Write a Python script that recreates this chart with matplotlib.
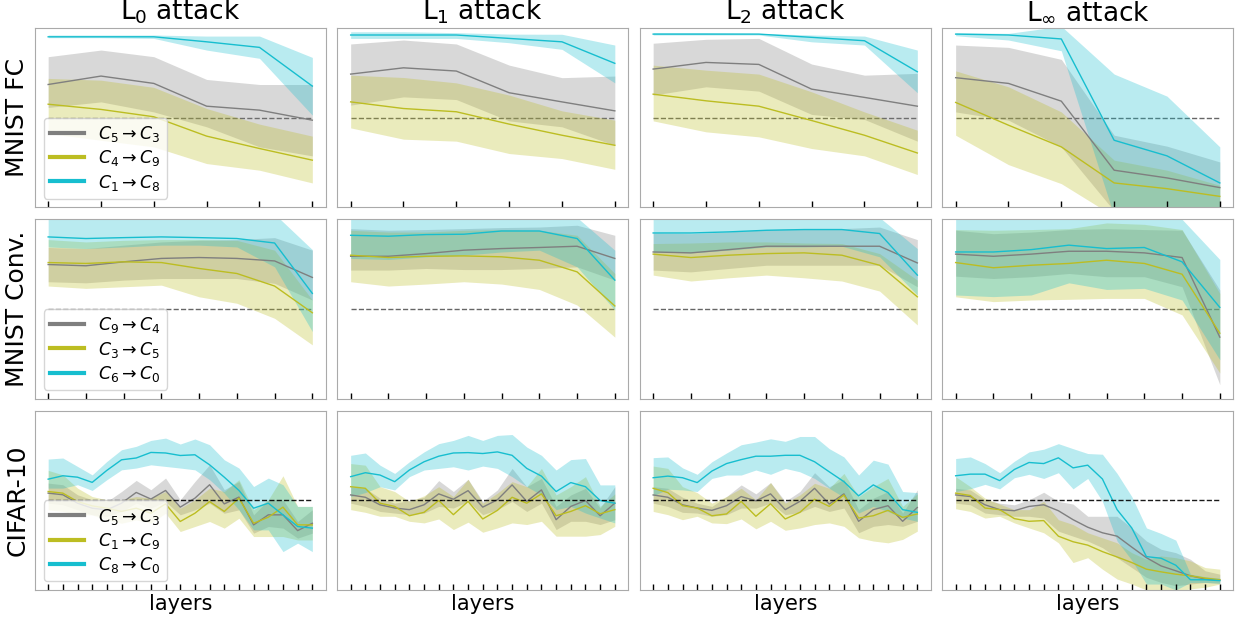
import numpy as np
import matplotlib.pyplot as plt

# etiquetas
filas = ['MNIST FC', 'MNIST Conv.', 'CIFAR-10']
titulos = [r'L$_0$ attack', r'L$_1$ attack', r'L$_2$ attack', r'L$_\infty$ attack']
leyendas = [
    [r'$C_5 \rightarrow C_3$', r'$C_4 \rightarrow C_9$', r'$C_1 \rightarrow C_8$'],
    [r'$C_9 \rightarrow C_4$', r'$C_3 \rightarrow C_5$', r'$C_6 \rightarrow C_0$'],
    [r'$C_5 \rightarrow C_3$', r'$C_1 \rightarrow C_9$', r'$C_8 \rightarrow C_0$'],
]
nivel = 0.5  # linea discontinua

# ---------------- MNIST FC (6 capas) ----------------
fc_l0_gray = [0.685, 0.732, 0.691, 0.564, 0.542, 0.486]
fc_l0_gray_lo = [0.557, 0.588, 0.532, 0.449, 0.337, 0.287]
fc_l0_gray_hi = [0.840, 0.877, 0.840, 0.713, 0.685, 0.685]
fc_l0_olive = [0.575, 0.546, 0.505, 0.397, 0.328, 0.263]
fc_l0_olive_lo = [0.412, 0.374, 0.337, 0.244, 0.207, 0.136]
fc_l0_olive_hi = [0.719, 0.709, 0.669, 0.551, 0.464, 0.397]
fc_l0_cyan = [0.951, 0.951, 0.951, 0.923, 0.892, 0.676]
fc_l0_cyan_lo = [0.946, 0.946, 0.942, 0.877, 0.831, 0.514]
fc_l0_cyan_hi = [0.961, 0.961, 0.961, 0.955, 0.955, 0.836]

fc_l1_gray = [0.743, 0.778, 0.760, 0.639, 0.588, 0.538]
fc_l1_gray_lo = [0.570, 0.616, 0.601, 0.482, 0.449, 0.346]
fc_l1_gray_hi = [0.911, 0.933, 0.911, 0.793, 0.723, 0.732]
fc_l1_olive = [0.588, 0.551, 0.533, 0.464, 0.402, 0.346]
fc_l1_olive_lo = [0.443, 0.380, 0.369, 0.300, 0.272, 0.212]
fc_l1_olive_hi = [0.737, 0.724, 0.694, 0.626, 0.538, 0.486]
fc_l1_cyan = [0.961, 0.961, 0.961, 0.942, 0.923, 0.803]
fc_l1_cyan_lo = [0.942, 0.942, 0.942, 0.918, 0.881, 0.694]
fc_l1_cyan_hi = [0.979, 0.979, 0.974, 0.966, 0.965, 0.905]

fc_l2_gray = [0.771, 0.808, 0.797, 0.659, 0.613, 0.564]
fc_l2_gray_lo = [0.626, 0.672, 0.648, 0.518, 0.490, 0.369]
fc_l2_gray_hi = [0.915, 0.937, 0.942, 0.799, 0.737, 0.747]
fc_l2_olive = [0.631, 0.594, 0.564, 0.484, 0.402, 0.303]
fc_l2_olive_lo = [0.482, 0.421, 0.393, 0.328, 0.287, 0.183]
fc_l2_olive_hi = [0.793, 0.765, 0.743, 0.644, 0.532, 0.430]
fc_l2_cyan = [0.966, 0.966, 0.966, 0.948, 0.929, 0.756]
fc_l2_cyan_lo = [0.961, 0.961, 0.961, 0.923, 0.905, 0.639]
fc_l2_cyan_hi = [0.974, 0.974, 0.970, 0.961, 0.955, 0.877]

fc_linf_gray = [0.723, 0.691, 0.592, 0.207, 0.164, 0.110]
fc_linf_gray_lo = [0.532, 0.486, 0.337, -0.02, -0.02, 0.0]
fc_linf_gray_hi = [0.905, 0.892, 0.825, 0.402, 0.341, 0.253]
fc_linf_olive = [0.585, 0.458, 0.337, 0.136, 0.104, 0.061]
fc_linf_olive_lo = [0.402, 0.238, 0.132, -0.05, -0.05, -0.03]
fc_linf_olive_hi = [0.761, 0.672, 0.532, 0.263, 0.207, 0.123]
fc_linf_cyan = [0.966, 0.961, 0.939, 0.374, 0.287, 0.136]
fc_linf_cyan_lo = [0.957, 0.933, 0.873, -0.05, -0.05, -0.03]
fc_linf_cyan_hi = [0.974, 0.970, 1.01, 0.743, 0.620, 0.337]

# ---------------- MNIST Conv. (8 capas) ----------------
conv_l0_gray = [0.748, 0.741, 0.763, 0.782, 0.787, 0.782, 0.768, 0.676]
conv_l0_gray_lo = [0.652, 0.646, 0.661, 0.670, 0.670, 0.670, 0.643, 0.550]
conv_l0_gray_hi = [0.843, 0.837, 0.856, 0.874, 0.883, 0.887, 0.898, 0.828]
conv_l0_olive = [0.759, 0.754, 0.763, 0.759, 0.726, 0.698, 0.628, 0.479]
conv_l0_olive_lo = [0.628, 0.615, 0.624, 0.633, 0.568, 0.532, 0.448, 0.300]
conv_l0_olive_hi = [0.887, 0.874, 0.883, 0.887, 0.887, 0.883, 0.828, 0.550]
conv_l0_cyan = [0.902, 0.893, 0.898, 0.902, 0.898, 0.893, 0.868, 0.587]
conv_l0_cyan_lo = [0.846, 0.837, 0.846, 0.856, 0.856, 0.846, 0.735, 0.374]
conv_l0_cyan_hi = [1.08, 1.08, 1.08, 1.08, 1.08, 1.08, 1.03, 0.831]

conv_l1_gray = [0.794, 0.794, 0.809, 0.828, 0.837, 0.843, 0.850, 0.782]
conv_l1_gray_lo = [0.717, 0.717, 0.726, 0.720, 0.720, 0.726, 0.735, 0.661]
conv_l1_gray_hi = [0.948, 0.939, 0.943, 0.948, 0.954, 0.957, 0.967, 0.911]
conv_l1_olive = [0.800, 0.787, 0.794, 0.796, 0.791, 0.772, 0.707, 0.517]
conv_l1_olive_lo = [0.652, 0.628, 0.639, 0.652, 0.639, 0.609, 0.522, 0.343]
conv_l1_olive_hi = [0.939, 0.929, 0.929, 0.939, 0.943, 0.939, 0.911, 0.698]
conv_l1_cyan = [0.911, 0.906, 0.915, 0.917, 0.935, 0.935, 0.893, 0.661]
conv_l1_cyan_lo = [0.782, 0.776, 0.791, 0.800, 0.818, 0.828, 0.735, 0.494]
conv_l1_cyan_hi = [1.08, 1.08, 1.08, 1.08, 1.08, 1.08, 1.01, 0.828]

conv_l2_gray = [0.818, 0.813, 0.831, 0.850, 0.850, 0.850, 0.850, 0.757]
conv_l2_gray_lo = [0.717, 0.707, 0.726, 0.744, 0.744, 0.744, 0.744, 0.624]
conv_l2_gray_hi = [0.924, 0.920, 0.930, 0.943, 0.948, 0.948, 0.957, 0.887]
conv_l2_olive = [0.806, 0.787, 0.800, 0.809, 0.813, 0.800, 0.744, 0.568]
conv_l2_olive_lo = [0.689, 0.656, 0.674, 0.689, 0.674, 0.656, 0.600, 0.411]
conv_l2_olive_hi = [0.865, 0.868, 0.874, 0.874, 0.868, 0.865, 0.809, 0.661]
conv_l2_cyan = [0.924, 0.924, 0.930, 0.939, 0.943, 0.943, 0.921, 0.689]
conv_l2_cyan_lo = [0.818, 0.813, 0.828, 0.846, 0.846, 0.850, 0.791, 0.578]
conv_l2_cyan_hi = [1.08, 1.08, 1.08, 1.08, 1.08, 1.08, 1.01, 0.837]

conv_linf_gray = [0.806, 0.794, 0.806, 0.822, 0.822, 0.813, 0.787, 0.343]
conv_linf_gray_lo = [0.683, 0.670, 0.680, 0.698, 0.680, 0.680, 0.624, 0.078]
conv_linf_gray_hi = [0.939, 0.920, 0.929, 0.943, 0.948, 0.943, 0.939, 0.606]
conv_linf_olive = [0.759, 0.730, 0.744, 0.754, 0.772, 0.754, 0.694, 0.365]
conv_linf_olive_lo = [0.568, 0.541, 0.550, 0.554, 0.559, 0.559, 0.467, 0.143]
conv_linf_olive_hi = [0.943, 0.939, 0.943, 0.948, 0.980, 0.972, 0.943, 0.587]
conv_linf_cyan = [0.818, 0.818, 0.831, 0.856, 0.837, 0.843, 0.763, 0.509]
conv_linf_cyan_lo = [0.578, 0.569, 0.578, 0.646, 0.609, 0.615, 0.550, 0.217]
conv_linf_cyan_hi = [1.08, 1.08, 1.08, 1.08, 1.08, 1.08, 1.0, 0.776]

# ---------------- CIFAR-10 (19 capas) ----------------
cif_l0_gray = [0.540, 0.531, 0.484, 0.456, 0.447, 0.484, 0.544, 0.507, 0.555, 0.462,
               0.512, 0.587, 0.480, 0.518, 0.363, 0.419, 0.419, 0.331, 0.372]
cif_l0_gray_lo = [0.484, 0.475, 0.447, 0.419, 0.410, 0.438, 0.484, 0.456, 0.493, 0.419,
                  0.447, 0.484, 0.428, 0.447, 0.317, 0.354, 0.345, 0.289, 0.317]
cif_l0_gray_hi = [0.596, 0.587, 0.531, 0.503, 0.493, 0.549, 0.611, 0.559, 0.624, 0.503,
                  0.605, 0.698, 0.559, 0.605, 0.419, 0.503, 0.503, 0.382, 0.447]
cif_l0_olive = [0.549, 0.540, 0.493, 0.469, 0.456, 0.438, 0.456, 0.428, 0.480, 0.382,
                0.428, 0.493, 0.438, 0.512, 0.372, 0.406, 0.462, 0.363, 0.363]
cif_l0_olive_lo = [0.447, 0.438, 0.419, 0.419, 0.391, 0.372, 0.391, 0.372, 0.428, 0.326,
                   0.354, 0.382, 0.345, 0.400, 0.298, 0.298, 0.298, 0.279, 0.279]
cif_l0_olive_hi = [0.667, 0.642, 0.568, 0.521, 0.503, 0.503, 0.521, 0.512, 0.549, 0.456,
                   0.503, 0.568, 0.549, 0.615, 0.447, 0.503, 0.637, 0.466, 0.466]
cif_l0_cyan = [0.618, 0.637, 0.629, 0.600, 0.667, 0.726, 0.736, 0.767, 0.764, 0.750,
               0.754, 0.698, 0.629, 0.555, 0.456, 0.484, 0.419, 0.354, 0.345]
cif_l0_cyan_lo = [0.568, 0.568, 0.587, 0.555, 0.615, 0.670, 0.680, 0.698, 0.689, 0.680,
                  0.670, 0.615, 0.540, 0.447, 0.335, 0.335, 0.214, 0.261, 0.214]
cif_l0_cyan_hi = [0.730, 0.736, 0.689, 0.642, 0.717, 0.782, 0.801, 0.834, 0.847, 0.814,
                  0.842, 0.810, 0.726, 0.680, 0.577, 0.624, 0.587, 0.466, 0.466]

cif_l1_gray = [0.530, 0.517, 0.475, 0.457, 0.448, 0.475, 0.536, 0.506, 0.554, 0.462,
               0.503, 0.586, 0.494, 0.558, 0.392, 0.466, 0.499, 0.414, 0.484]
cif_l1_gray_lo = [0.484, 0.466, 0.438, 0.429, 0.420, 0.429, 0.466, 0.457, 0.494, 0.420,
                  0.448, 0.494, 0.438, 0.484, 0.337, 0.383, 0.383, 0.365, 0.392]
cif_l1_gray_hi = [0.576, 0.567, 0.512, 0.484, 0.499, 0.517, 0.610, 0.549, 0.617, 0.494,
                  0.558, 0.678, 0.576, 0.622, 0.466, 0.530, 0.567, 0.457, 0.576]
cif_l1_olive = [0.576, 0.567, 0.484, 0.466, 0.414, 0.433, 0.499, 0.420, 0.494, 0.396,
                0.444, 0.517, 0.484, 0.536, 0.414, 0.438, 0.470, 0.425, 0.448]
cif_l1_olive_lo = [0.448, 0.433, 0.411, 0.411, 0.383, 0.374, 0.396, 0.337, 0.378, 0.322,
                   0.346, 0.374, 0.365, 0.383, 0.300, 0.300, 0.300, 0.309, 0.355]
cif_l1_olive_hi = [0.705, 0.696, 0.576, 0.549, 0.494, 0.525, 0.576, 0.521, 0.617, 0.484,
                   0.540, 0.604, 0.576, 0.678, 0.530, 0.576, 0.632, 0.466, 0.536]
cif_l1_cyan = [0.632, 0.654, 0.641, 0.604, 0.669, 0.715, 0.746, 0.764, 0.766, 0.761,
               0.770, 0.751, 0.678, 0.635, 0.549, 0.599, 0.576, 0.499, 0.484]
cif_l1_cyan_lo = [0.521, 0.543, 0.576, 0.558, 0.632, 0.669, 0.678, 0.687, 0.669, 0.691,
                  0.678, 0.632, 0.576, 0.530, 0.448, 0.466, 0.429, 0.401, 0.374]
cif_l1_cyan_hi = [0.751, 0.764, 0.696, 0.650, 0.715, 0.770, 0.816, 0.834, 0.862, 0.834,
                  0.862, 0.867, 0.797, 0.751, 0.669, 0.727, 0.733, 0.586, 0.586]

cif_l2_gray = [0.530, 0.517, 0.475, 0.457, 0.444, 0.470, 0.521, 0.497, 0.536, 0.448,
               0.494, 0.567, 0.479, 0.536, 0.383, 0.448, 0.470, 0.383, 0.460]
cif_l2_gray_lo = [0.484, 0.466, 0.433, 0.429, 0.411, 0.420, 0.457, 0.457, 0.484, 0.420,
                  0.433, 0.466, 0.438, 0.457, 0.319, 0.355, 0.365, 0.355, 0.383]
cif_l2_gray_hi = [0.576, 0.567, 0.517, 0.484, 0.466, 0.521, 0.586, 0.536, 0.599, 0.494,
                  0.549, 0.654, 0.576, 0.617, 0.448, 0.512, 0.549, 0.429, 0.558]
cif_l2_olive = [0.567, 0.543, 0.470, 0.457, 0.414, 0.424, 0.494, 0.411, 0.481, 0.396,
                0.433, 0.506, 0.466, 0.530, 0.401, 0.414, 0.444, 0.405, 0.424]
cif_l2_olive_lo = [0.438, 0.420, 0.392, 0.411, 0.374, 0.370, 0.396, 0.341, 0.383, 0.333,
                   0.346, 0.365, 0.374, 0.355, 0.291, 0.273, 0.263, 0.282, 0.328]
cif_l2_olive_hi = [0.691, 0.678, 0.576, 0.543, 0.484, 0.521, 0.567, 0.503, 0.599, 0.484,
                   0.530, 0.595, 0.567, 0.650, 0.521, 0.576, 0.622, 0.466, 0.536]
cif_l2_cyan = [0.626, 0.635, 0.626, 0.599, 0.663, 0.705, 0.727, 0.746, 0.746, 0.751,
               0.751, 0.715, 0.659, 0.604, 0.525, 0.586, 0.543, 0.448, 0.433]
cif_l2_cyan_lo = [0.525, 0.562, 0.558, 0.549, 0.622, 0.641, 0.641, 0.669, 0.645, 0.678,
                  0.659, 0.622, 0.567, 0.517, 0.429, 0.466, 0.438, 0.401, 0.383]
cif_l2_cyan_hi = [0.738, 0.742, 0.681, 0.645, 0.715, 0.764, 0.810, 0.825, 0.843, 0.829,
                  0.856, 0.856, 0.788, 0.742, 0.641, 0.724, 0.702, 0.549, 0.543]

cif_linf_gray = [0.530, 0.521, 0.475, 0.448, 0.442, 0.466, 0.475, 0.442, 0.392, 0.350,
                 0.319, 0.300, 0.239, 0.180, 0.134, 0.107, 0.079, 0.061, 0.055]
cif_linf_gray_lo = [0.484, 0.475, 0.429, 0.420, 0.411, 0.411, 0.401, 0.328, 0.300, 0.273,
                    0.236, 0.180, 0.125, 0.070, 0.042, 0.024, 0.033, 0.042, 0.037]
cif_linf_gray_hi = [0.567, 0.558, 0.503, 0.484, 0.475, 0.503, 0.545, 0.494, 0.479, 0.411,
                    0.411, 0.411, 0.346, 0.273, 0.227, 0.208, 0.171, 0.107, 0.088]
cif_linf_olive = [0.540, 0.527, 0.457, 0.448, 0.398, 0.383, 0.387, 0.300, 0.269, 0.250,
                  0.214, 0.184, 0.153, 0.116, 0.101, 0.088, 0.079, 0.066, 0.057]
cif_linf_olive_lo = [0.453, 0.438, 0.401, 0.411, 0.374, 0.346, 0.319, 0.263, 0.153, 0.180,
                     0.116, 0.061, 0.033, 0.0, -0.004, -0.007, 0.006, 0.015, 0.033]
cif_linf_olive_hi = [0.632, 0.576, 0.512, 0.479, 0.448, 0.448, 0.494, 0.392, 0.365, 0.319,
                     0.291, 0.263, 0.208, 0.171, 0.190, 0.180, 0.162, 0.125, 0.116]
cif_linf_cyan = [0.637, 0.646, 0.646, 0.610, 0.672, 0.711, 0.705, 0.737, 0.681, 0.696,
                 0.619, 0.448, 0.346, 0.186, 0.177, 0.138, 0.057, 0.057, 0.052]
cif_linf_cyan_lo = [0.549, 0.564, 0.589, 0.564, 0.626, 0.645, 0.622, 0.654, 0.564, 0.622,
                    0.494, 0.273, 0.166, 0.033, 0.033, 0.0, 0.042, 0.042, 0.037]
cif_linf_cyan_hi = [0.733, 0.742, 0.705, 0.654, 0.718, 0.770, 0.785, 0.816, 0.788, 0.761,
                    0.757, 0.650, 0.521, 0.346, 0.315, 0.278, 0.088, 0.074, 0.066]

# tabla de paneles: fila -> columna -> (gris, oliva, cian)
paneles = [
    [
        [(fc_l0_gray, fc_l0_gray_lo, fc_l0_gray_hi), (fc_l0_olive, fc_l0_olive_lo, fc_l0_olive_hi), (fc_l0_cyan, fc_l0_cyan_lo, fc_l0_cyan_hi)],
        [(fc_l1_gray, fc_l1_gray_lo, fc_l1_gray_hi), (fc_l1_olive, fc_l1_olive_lo, fc_l1_olive_hi), (fc_l1_cyan, fc_l1_cyan_lo, fc_l1_cyan_hi)],
        [(fc_l2_gray, fc_l2_gray_lo, fc_l2_gray_hi), (fc_l2_olive, fc_l2_olive_lo, fc_l2_olive_hi), (fc_l2_cyan, fc_l2_cyan_lo, fc_l2_cyan_hi)],
        [(fc_linf_gray, fc_linf_gray_lo, fc_linf_gray_hi), (fc_linf_olive, fc_linf_olive_lo, fc_linf_olive_hi), (fc_linf_cyan, fc_linf_cyan_lo, fc_linf_cyan_hi)],
    ],
    [
        [(conv_l0_gray, conv_l0_gray_lo, conv_l0_gray_hi), (conv_l0_olive, conv_l0_olive_lo, conv_l0_olive_hi), (conv_l0_cyan, conv_l0_cyan_lo, conv_l0_cyan_hi)],
        [(conv_l1_gray, conv_l1_gray_lo, conv_l1_gray_hi), (conv_l1_olive, conv_l1_olive_lo, conv_l1_olive_hi), (conv_l1_cyan, conv_l1_cyan_lo, conv_l1_cyan_hi)],
        [(conv_l2_gray, conv_l2_gray_lo, conv_l2_gray_hi), (conv_l2_olive, conv_l2_olive_lo, conv_l2_olive_hi), (conv_l2_cyan, conv_l2_cyan_lo, conv_l2_cyan_hi)],
        [(conv_linf_gray, conv_linf_gray_lo, conv_linf_gray_hi), (conv_linf_olive, conv_linf_olive_lo, conv_linf_olive_hi), (conv_linf_cyan, conv_linf_cyan_lo, conv_linf_cyan_hi)],
    ],
    [
        [(cif_l0_gray, cif_l0_gray_lo, cif_l0_gray_hi), (cif_l0_olive, cif_l0_olive_lo, cif_l0_olive_hi), (cif_l0_cyan, cif_l0_cyan_lo, cif_l0_cyan_hi)],
        [(cif_l1_gray, cif_l1_gray_lo, cif_l1_gray_hi), (cif_l1_olive, cif_l1_olive_lo, cif_l1_olive_hi), (cif_l1_cyan, cif_l1_cyan_lo, cif_l1_cyan_hi)],
        [(cif_l2_gray, cif_l2_gray_lo, cif_l2_gray_hi), (cif_l2_olive, cif_l2_olive_lo, cif_l2_olive_hi), (cif_l2_cyan, cif_l2_cyan_lo, cif_l2_cyan_hi)],
        [(cif_linf_gray, cif_linf_gray_lo, cif_linf_gray_hi), (cif_linf_olive, cif_linf_olive_lo, cif_linf_olive_hi), (cif_linf_cyan, cif_linf_cyan_lo, cif_linf_cyan_hi)],
    ],
]

colores = ['tab:gray', 'tab:olive', 'tab:cyan']

fig, axes = plt.subplots(3, 4, figsize=(12.35, 6.17), dpi=100)
fig.subplots_adjust(left=0.0283, right=0.9984, top=0.9546, bottom=0.0438,
                    wspace=0.041, hspace=0.067)

for i in range(3):
    for j in range(4):
        ax = axes[i, j]
        n = len(paneles[i][j][0][0])
        capas = np.arange(n)
        # en CIFAR la linea discontinua queda por encima
        z_nivel = 3 if i == 2 else 0.5
        ax.plot([capas[0], capas[-1]], [nivel, nivel], ls='--', color='k',
                lw=1, alpha=0.9 if i == 2 else 0.6, zorder=z_nivel)
        for k, (media, bajo, alto) in enumerate(paneles[i][j]):
            ax.fill_between(capas, bajo, alto, color=colores[k], alpha=0.3, lw=0)
            ax.plot(capas, media, color=colores[k], lw=1, label=leyendas[i][k])
        ax.set_ylim(0, 1)
        ax.set_yticks([])
        ax.set_xticks(capas)
        ax.tick_params(axis='x', direction='in', length=4, width=1,
                       labelbottom=False)
        for s in ax.spines.values():
            s.set_color('#aaaaaa')
        if i == 0:
            ax.set_title(titulos[j], fontsize=19)
        if j == 0:
            ax.set_ylabel(filas[i], fontsize=18)
            leg = ax.legend(loc='lower left', fontsize=12.5, handlelength=2.0,
                            labelspacing=0.25, borderpad=0.35)
            for l in leg.get_lines():
                l.set_linewidth(3)
        if i == 2:
            ax.set_xlabel('layers', fontsize=15, labelpad=3)

plt.savefig('out.png', dpi=100)
